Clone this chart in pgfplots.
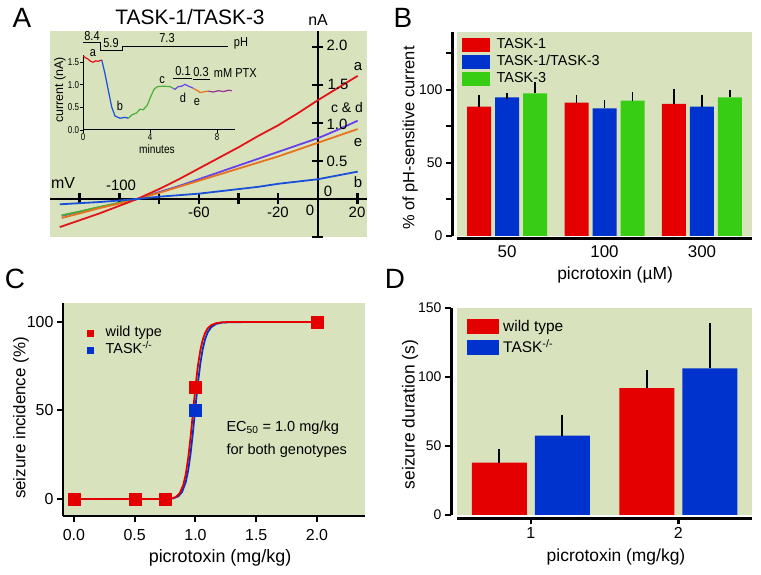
\documentclass[border=0pt]{standalone}
\usepackage{fontspec}
\setmainfont{Liberation Sans}
\usepackage{pgfplots}
\pgfplotsset{compat=1.18}
\definecolor{bgg}{RGB}{216,227,189}
\definecolor{rbar}{RGB}{228,0,0}
\definecolor{bbar}{RGB}{0,50,205}
\definecolor{gbar}{RGB}{55,205,20}
\definecolor{ivred}{RGB}{225,20,25}
\definecolor{ivblue}{RGB}{25,80,215}
\definecolor{ivviol}{RGB}{105,65,235}
\definecolor{ivgreen}{RGB}{75,175,55}
\definecolor{ivorange}{RGB}{230,115,30}
\definecolor{ivpurp}{RGB}{150,50,150}
\newcommand\fs[1]{\fontsize{#1}{#1}\selectfont}
\pgfplotsset{
  every axis/.append style={scale only axis, anchor=south west,
    /pgf/number format/assume math mode=true},
  noarrows/.style={axis line style={-},
    every inner x axis line/.append style={-}, every inner y axis line/.append style={-},
    every outer x axis line/.append style={-}, every outer y axis line/.append style={-}},
}
\begin{document}
\begin{tikzpicture}
\path[use as bounding box] (0,0) rectangle (761bp,575bp);

% ---------- A: I-V curves
\begin{axis}[at={(50bp,338bp)}, width=317bp, height=206bp,
  xmin=-134.9, xmax=24.7, ymin=-0.5, ymax=2.21,
  axis lines=middle, noarrows, axis line style={line width=2.8bp},
  axis background/.style={fill=bgg},
  xtick={-120,-100,...,20}, ytick={-0.5,0.5,1,1.5,2},
  xticklabels={}, yticklabels={},
  major tick length=11bp, tick style={line width=2.4bp,black},
  clip=false]
\addplot[ivviol, line width=1.8bp] coordinates {(-129,-0.22)(-120,-0.17)(-110,-0.11)(-100,-0.05)(-91,0)(-80,0.09)(-70,0.17)(-60,0.26)(-50,0.35)(-40,0.44)(-30,0.53)(-20,0.62)(-10,0.71)(0,0.80)(10,0.91)(20,1.03)};
\addplot[ivgreen, line width=1.8bp] coordinates {(-129,-0.215)(-120,-0.165)(-110,-0.105)(-100,-0.05)(-91,0)(-82,0.07)};
\addplot[ivorange, line width=1.8bp] coordinates {(-129,-0.25)(-120,-0.19)(-110,-0.12)(-100,-0.06)(-91,0)(-80,0.08)(-70,0.16)(-60,0.24)(-50,0.32)(-40,0.40)(-30,0.48)(-20,0.56)(-10,0.65)(0,0.74)(10,0.83)(20,0.92)};
\addplot[ivred, line width=1.8bp] coordinates {(-130,-0.37)(-120,-0.28)(-110,-0.19)(-100,-0.09)(-91,0)(-80,0.13)(-70,0.26)(-60,0.40)(-50,0.54)(-40,0.68)(-30,0.83)(-20,0.97)(-10,1.13)(0,1.30)(10,1.46)(20,1.62)};
\addplot[ivblue, line width=1.8bp] coordinates {(-130,-0.07)(-120,-0.055)(-110,-0.04)(-100,-0.02)(-91,0)(-80,0.03)(-70,0.05)(-60,0.07)(-50,0.10)(-40,0.13)(-30,0.16)(-20,0.20)(-10,0.23)(0,0.26)(10,0.31)(20,0.36)};
\end{axis}

% ---------- A inset: time course
\begin{axis}[at={(83bp,445bp)}, width=152bp, height=75bp,
  xmin=0, xmax=9.07, ymin=0, ymax=1.66,
  axis lines=left, noarrows, axis line style={line width=1bp},
  tick align=outside, major tick length=3bp, tick style={line width=0.8bp,black},
  xtick={0,4,8}, ytick={0,0.5,1,1.5}, yticklabels={0.0,0.5,1.0,1.5},
  ticklabel style={font=\fs{10}, xscale=0.8, inner sep=1bp}, xticklabel style={yshift=0.5bp}]
\addplot[ivred, line width=1.2bp] coordinates {(0,1.64)(0.15,1.6)(0.3,1.57)(0.45,1.52)(0.6,1.5)(0.75,1.53)(0.9,1.52)(1.12,1.55)};
\addplot[ivblue, line width=1.2bp] coordinates {(1.12,1.55)(1.31,1.25)(1.51,0.88)(1.71,0.51)(1.91,0.31)(2.21,0.26)(2.51,0.28)(2.71,0.26)};
\addplot[ivgreen, line width=1.2bp] coordinates {(2.71,0.26)(2.9,0.33)(3.2,0.38)(3.4,0.46)(3.6,0.45)(3.84,0.55)(4.04,0.74)(4.24,0.90)(4.44,0.96)(4.8,0.97)(5.19,0.96)(5.39,0.92)};
\addplot[ivviol, line width=1.2bp] coordinates {(5.39,0.92)(5.49,0.90)(5.69,0.96)(5.89,0.97)(6.09,1.01)(6.29,0.97)(6.49,0.94)(6.59,0.92)};
\addplot[ivorange, line width=1.2bp] coordinates {(6.59,0.92)(6.79,0.88)(6.99,0.83)(7.28,0.85)(7.48,0.86)};
\addplot[ivpurp, line width=1.2bp] coordinates {(7.48,0.86)(7.78,0.84)(8.08,0.87)(8.38,0.85)(8.68,0.88)(8.88,0.87)};
\end{axis}

% ---------- B
\begin{axis}[at={(457bp,339bp)}, width=295bp, height=204bp,
  xmin=0.487, xmax=3.513, ymin=0, ymax=139.7,
  axis lines=left, noarrows, axis line style={line width=3bp},
  axis x line shift=3bp, axis y line shift=5bp,
  axis background/.style={fill=bgg},
  xtick=\empty, extra x ticks={1,2,3}, extra x tick labels={50,100,300},
  extra x tick style={major tick length=0pt},
  ytick={0,50,100}, minor ytick={25,75,125},
  tick align=outside, major tick length=6bp, minor tick length=6bp,
  tick style={line width=2bp,black},
  xticklabel style={font=\fs{17}, yshift=-3bp}, yticklabel style={font=\fs{14}},
  ybar, bar width=24bp,
  error bars/y dir=plus, error bars/y explicit,
  error bars/error bar style={draw=black, line width=1.8bp},
  error bars/error mark options={draw=black, line width=1.8bp, mark size=3bp},
  xlabel={picrotoxin (µM)}, ylabel={\% of pH-sensitive current},
  xlabel style={font=\fs{17.5}, at={(axis description cs:0.536,-0.191)}, anchor=center},
  ylabel style={font=\fs{16.5}, at={(axis description cs:-0.159,0.48)}, anchor=center},
  legend style={at={(axis description cs:0.017,0.98)}, anchor=north west, draw=none, fill=none,
    inner sep=0pt, font=\fs{14.5}, row sep=0pt,
    nodes={inner sep=1.5bp, text height=11bp, text depth=3bp}},
  legend cell align=left,
  legend image code/.code={\fill[#1] (0bp,-7bp) rectangle (28bp,7bp); \path (33bp,0bp);}]
\addplot[fill=rbar, draw=none, bar shift=-28bp] coordinates {(1,88.6) +- (0,6.1) (2,91.3) +- (0,3.4) (3,90.4) +- (0,8.5)};
\addplot[fill=bbar, draw=none, bar shift=0bp] coordinates {(1,95.0) +- (0,1.0) (2,87.4) +- (0,3.5) (3,88.6) +- (0,6.1)};
\addplot[fill=gbar, draw=none, bar shift=28bp] coordinates {(1,97.7) +- (0,5.7) (2,92.7) +- (0,3.9) (3,95.0) +- (0,3.2)};
\legend{TASK-1, TASK-1/TASK-3, TASK-3}
\end{axis}

% ---------- C
\begin{axis}[at={(63bp,59bp)}, width=302bp, height=213bp,
  xmin=-0.09, xmax=2.395, ymin=-9.6, ymax=110.7,
  axis lines=left, noarrows, axis line style={line width=2.2bp},
  axis background/.style={fill=bgg},
  xtick={0,0.5,1,1.5,2}, xticklabels={0.0,0.5,1.0,1.5,2.0}, ytick={0,50,100},
  tick align=outside, major tick length=6bp, tick style={line width=2bp,black},
  ticklabel style={font=\fs{16}}, xticklabel style={yshift=-4bp},
  xlabel={picrotoxin (mg/kg)}, ylabel={seizure incidence (\%)},
  xlabel style={font=\fs{18}, at={(axis description cs:0.52,-0.197)}, anchor=center},
  ylabel style={font=\fs{17}, at={(axis description cs:-0.139,0.46)}, anchor=center},
  legend style={at={(axis description cs:0.078,0.9)}, anchor=north west, draw=none, fill=none,
    inner sep=0pt, font=\fs{14.5}, row sep=0pt,
    nodes={inner sep=1.5bp, text height=11bp, text depth=3bp}},
  legend cell align=left,
  legend image code/.code={\draw[#1, mark size=3bp] plot coordinates {(3bp,0bp)}; \path (0bp,0bp) (17bp,0bp);}]
\addplot[bbar, line width=1.8bp, forget plot] coordinates {(0,0)(0.78,0)(0.82,0.42)(0.86,1.57)(0.89,4.0)(0.92,9.5)(0.94,16.1)(0.96,25.8)(0.98,38.2)(1.0,52.1)(1.02,65.4)(1.04,76.5)(1.06,84.8)(1.08,90.4)(1.1,94.0)(1.13,97.1)(1.17,98.9)(1.22,99.65)(1.3,99.9)(2,100)};
\addplot[rbar, line width=1.8bp, forget plot] coordinates {(0,0)(0.76,0)(0.8,0.3)(0.84,1.2)(0.87,3.2)(0.9,8.0)(0.92,13.9)(0.94,22.9)(0.96,35.1)(0.98,49.3)(1.0,63.3)(1.02,75.2)(1.04,84.0)(1.06,90.0)(1.08,93.9)(1.1,96.3)(1.13,98.2)(1.17,99.3)(1.22,99.8)(1.3,100)(2,100)};
\addplot[only marks, mark=square*, mark size=6bp, rbar] coordinates {(0,0)(0.5,0)(0.75,0)(1,63)(2,100)};
\addplot[only marks, mark=square*, mark size=6bp, bbar] coordinates {(1,50)};
\legend{wild type, TASK\textsuperscript{-/-}}
\end{axis}

% ---------- D
\begin{axis}[at={(457bp,60bp)}, width=295bp, height=207bp,
  xmin=0.5, xmax=2.5, ymin=0, ymax=150,
  axis lines=left, noarrows, axis line style={line width=3bp},
  axis x line shift=3bp, axis y line shift=6bp,
  axis background/.style={fill=bgg},
  xtick={1,2}, ytick={0,50,100,150},
  tick align=outside, major tick length=6bp, tick style={line width=2.5bp,black},
  xticklabel style={font=\fs{16}}, yticklabel style={font=\fs{14}},
  ybar, bar width=55bp,
  error bars/y dir=plus, error bars/y explicit,
  error bars/error bar style={draw=black, line width=2bp},
  error bars/error mark options={draw=black, line width=2bp, mark size=3.5bp},
  xlabel={picrotoxin (mg/kg)}, ylabel={seizure duration (s)},
  xlabel style={font=\fs{17.5}, at={(axis description cs:0.539,-0.204)}, anchor=center},
  ylabel style={font=\fs{17.5}, at={(axis description cs:-0.159,0.485)}, anchor=center},
  legend style={at={(axis description cs:0.034,0.96)}, anchor=north west, draw=none, fill=none,
    inner sep=0pt, font=\fs{15.5}, row sep=0pt,
    nodes={inner sep=2bp, text height=13bp, text depth=4bp}},
  legend cell align=left,
  legend image code/.code={\fill[#1] (0bp,-7.5bp) rectangle (32bp,7.5bp); \path (34bp,0bp);}]
\addplot[fill=rbar, draw=none, bar shift=-31.5bp] coordinates {(1,38) +- (0,7) (2,92) +- (0,10.8)};
\addplot[fill=bbar, draw=none, bar shift=31.5bp] coordinates {(1,57.6) +- (0,12.6) (2,106.2) +- (0,30.5)};
\legend{wild type, TASK\textsuperscript{-/-}}
\end{axis}

% ---------- panel letters and text of panel A
\node[font=\fs{28}] at (22bp,557bp) {A};
\node[font=\fs{28}] at (403bp,557bp) {B};
\node[font=\fs{28}] at (15bp,296bp) {C};
\node[font=\fs{28}] at (395bp,296bp) {D};
\node[font=\fs{21}] at (190bp,558bp) {TASK-1/TASK-3};
\node[font=\fs{16}] at (318bp,555bp) {nA};
\node[font=\fs{16}] at (63bp,392bp) {mV};
\begin{scope}[every node/.style={font=\fs{15}}]
\node at (121bp,390bp) {-100};
\node at (199bp,363bp) {-60};
\node at (278bp,363bp) {-20};
\node at (310bp,365bp) {0};
\node at (357bp,363bp) {20};
\node at (337bp,530bp) {2.0};
\node at (338bp,491bp) {1.5};
\node at (337bp,451bp) {1.0};
\node at (337bp,414bp) {0.5};
\node at (328bp,384bp) {0};
\node at (358bp,508bp) {a};
\node[font=\fs{14}, inner sep=1bp] at (347bp,467bp) {c \& d};
\node at (358bp,432bp) {e};
\node at (358bp,393bp) {b};
\end{scope}
% inset annotations
\draw[line width=0.9bp] (83bp,532.3bp) -- (100bp,532.3bp) -- (100bp,525bp) -- (122bp,525bp) -- (122bp,529bp) -- (228bp,529bp);
\draw[line width=0.9bp] (173bp,497bp) -- (192bp,497bp);
\draw[line width=0.9bp] (193bp,496bp) -- (210bp,496bp);
\begin{scope}[every node/.style={font=\fs{13}, xscale=0.85}]
\node at (92bp,539bp) {8.4};
\node at (111bp,532bp) {5.9};
\node at (167bp,537bp) {7.3};
\node at (241bp,532bp) {pH};
\node at (93bp,522bp) {a};
\node at (120bp,469bp) {b};
\node at (162bp,495bp) {c};
\node at (183bp,477bp) {d};
\node at (197bp,473bp) {e};
\node at (183bp,504bp) {0.1};
\node at (201bp,503bp) {0.3};
\node[anchor=west] at (211bp,502bp) {mM PTX};
\node[font=\fs{12}, inner sep=1bp] at (157bp,426bp) {minutes};
\end{scope}
\node[font=\fs{12.5}, rotate=90, inner sep=1bp] at (60bp,485bp) {current (nA)};
\node[font=\fs{14.6}, anchor=west] at (223bp,147bp) {EC\textsubscript{50} = 1.0 mg/kg};
\node[font=\fs{14.6}, anchor=west] at (223bp,124bp) {for both genotypes};
\end{tikzpicture}
\end{document}
